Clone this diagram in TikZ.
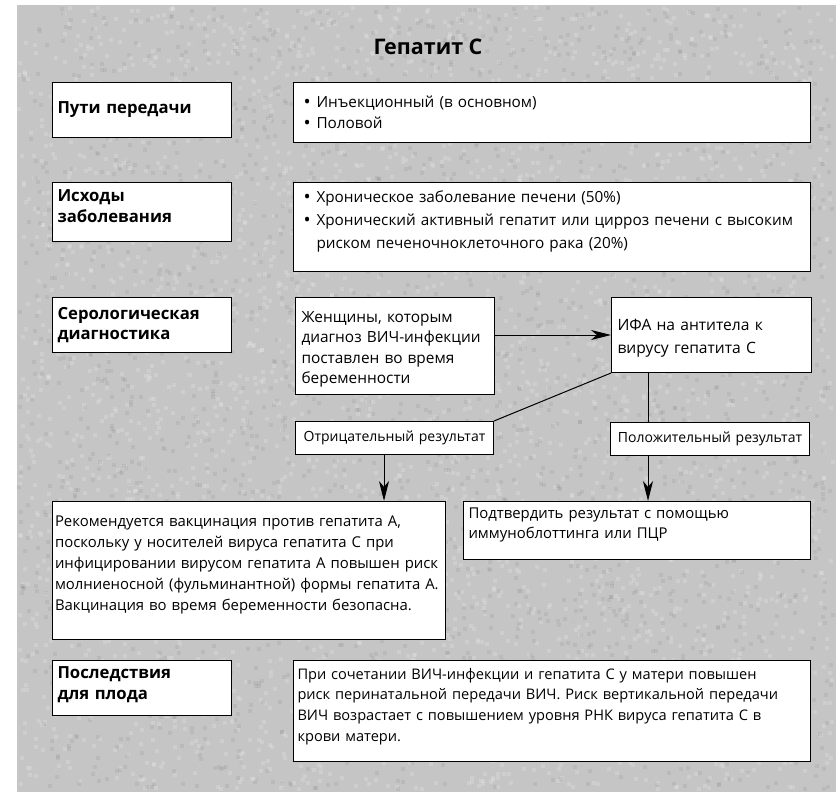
\documentclass[tikz,border=0pt]{standalone}
\usepackage{fontspec}
\setmainfont{Open Sans}
\usetikzlibrary{arrows.meta}
\definecolor{bggray}{RGB}{197,197,197}
\newcommand{\bul}{\makebox[13pt][l]{\raisebox{-1.2pt}{\fontsize{19}{19}\selectfont •}}}
\newcommand{\bulind}{\hspace*{13pt}}
\newcommand{\vadj}[1]{\par\kern#1\relax}
\begin{document}
\begin{tikzpicture}[x=1pt,y=-1pt,
  box/.style={draw=black, line width=1pt, fill=white, anchor=north west,
    inner ysep=0pt, align=left, font=\fontsize{15.3}{21}\selectfont},
  lbl/.style={box, font=\bfseries\fontsize{16.7}{20.5}\selectfont},
  arr/.style={-{Stealth[length=20pt,width=10pt,inset=6pt]}, line width=1pt},
  conn/.style={line width=1pt}]
\useasboundingbox (0,0) rectangle (836,792);
\fill[white] (0,0) rectangle (836,792);
\fill[bggray] (17,5) rectangle (836,792);
% mottled texture
\pgfmathsetseed{7}
\foreach \k in {1,...,3500}{
  \pgfmathsetmacro\rx{17+rnd*814}
  \pgfmathsetmacro\ry{5+rnd*782}
  \fill[white, opacity=0.16] (\rx,\ry) rectangle ++(4,4);
}
\foreach \k in {1,...,2500}{
  \pgfmathsetmacro\rx{17+rnd*814}
  \pgfmathsetmacro\ry{5+rnd*782}
  \fill[black, opacity=0.05] (\rx,\ry) rectangle ++(4,4);
}

\node[font=\bfseries\fontsize{21.5}{25}\selectfont] (title) at (428,47) {Гепатит С};

% row 1
\node[lbl, inner xsep=5pt, text width=169pt, minimum height=55pt] (a1) at (52,82) {Пути передачи};
\node[box, inner xsep=10pt, text width=497pt, minimum height=60pt] (b1) at (293,82)
  {\bul Инъекционный (в основном)\\ \bul Половой};

% row 2
\node[lbl, inner xsep=5pt, text width=169pt, minimum height=59pt] (a2) at (52,182) {Исходы\\ заболевания\vadj{12pt}};
\node[box, inner xsep=10pt, text width=497pt, minimum height=89pt, font=\fontsize{15.3}{23}\selectfont] (b2) at (293,182)
  {\bul Хроническое заболевание печени (50\%)\\
   \bul Хронический активный гепатит или цирроз печени с высоким\\
   \bulind риском печеночноклеточного рака (20\%)\vadj{11pt}};

% row 3
\node[lbl, inner xsep=5pt, text width=169pt, minimum height=55pt] (a3) at (52,297) {Серологическая\\ диагностика};
\node[box, inner xsep=6pt, text width=187pt, minimum height=97pt, font=\fontsize{15.4}{20.5}\selectfont] (w) at (295,297)
  {Женщины, которым\\ диагноз ВИЧ-инфекции\\ поставлен во время\\ беременности\vadj{-7pt}};
\node[box, inner xsep=6pt, text width=188pt, minimum height=75pt, font=\fontsize{15.6}{23}\selectfont] (i) at (611,297)
  {ИФА на антитела к\\ вирусу гепатита С\vadj{-6pt}};
\node[box, align=center, inner xsep=0pt, text width=198pt, minimum height=33pt, font=\fontsize{14}{18}\selectfont] (n) at (295,421)
  {Отрицательный результат};
\node[box, align=center, inner xsep=0pt, text width=199pt, minimum height=33pt, font=\fontsize{14}{18}\selectfont] (p) at (610,422)
  {Положительный результат};

% row 4
\node[box, inner xsep=2.5pt, text width=388pt, minimum height=138pt, font=\fontsize{14.9}{21}\selectfont] (r) at (52,501)
  {Рекомендуется вакцинация против гепатита А,\\
   поскольку у носителей вируса гепатита С при\\
   инфицировании вирусом гепатита А повышен риск\\
   молниеносной (фульминантной) формы гепатита А.\\
   Вакцинация во время беременности безопасна.\vadj{12pt}};
\node[box, inner xsep=5pt, text width=337pt, minimum height=58pt, font=\fontsize{14.9}{20}\selectfont] (c) at (463,501)
  {Подтвердить результат с помощью\\ иммуноблоттинга или ПЦР\vadj{11pt}};

% row 5
\node[lbl, inner xsep=5pt, text width=169pt, minimum height=55pt] (a5) at (52,660) {Последствия\\ для плода\vadj{7pt}};
\node[box, inner xsep=4pt, text width=509pt, minimum height=101pt, font=\fontsize{14.6}{20.7}\selectfont] (b5) at (293,660)
  {При сочетании ВИЧ-инфекции и гепатита С у матери повышен\\
   риск перинатальной передачи ВИЧ. Риск вертикальной передачи\\
   ВИЧ возрастает с повышением уровня РНК вируса гепатита С в\\
   крови матери.\vadj{9pt}};

% connectors
\draw[arr] (w.east |- i.west) -- (i.west);
\draw[conn] (i.south west) -- (n.north east);
\draw[conn] ([xshift=37pt]i.south west) -- ([xshift=38pt]p.north west);
\draw[arr] ([xshift=89pt]n.south west) -- ([xshift=89pt]n.south west |- r.north);
\draw[arr] ([xshift=38pt]p.south west) -- ([xshift=38pt]p.south west |- c.north);
\end{tikzpicture}
\end{document}
